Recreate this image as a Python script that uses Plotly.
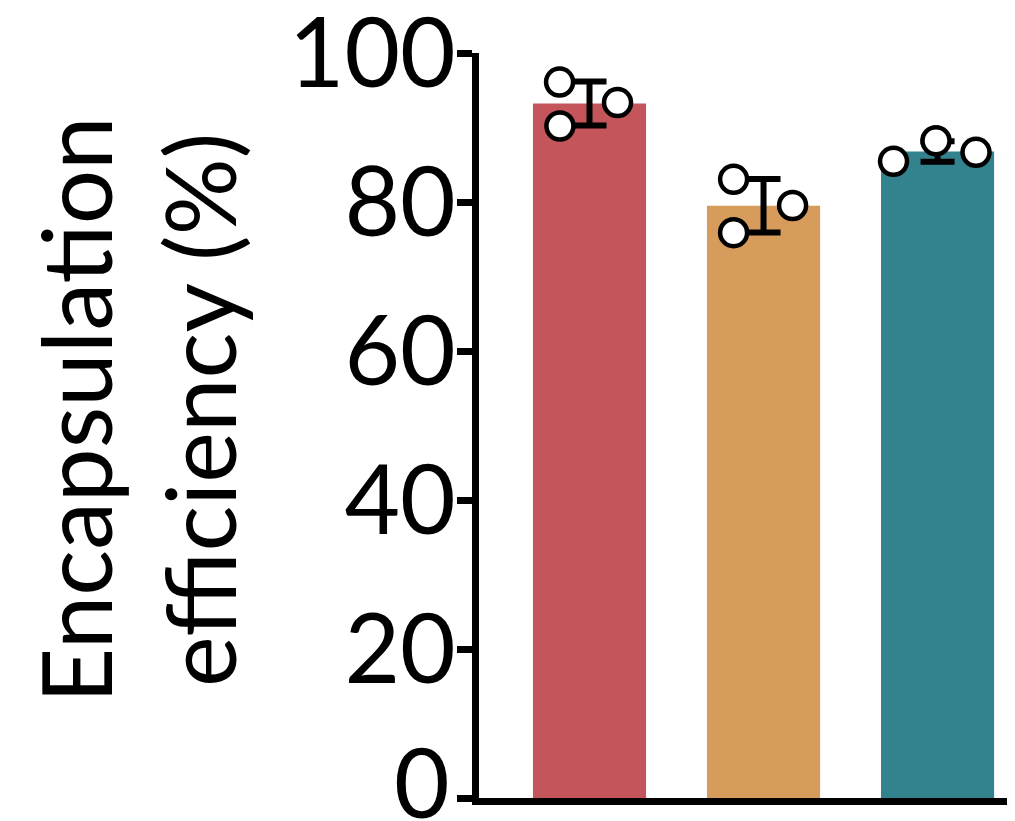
import numpy as np
import plotly.graph_objects as go

# ---- data ----
groups = ["Group 1", "Group 2", "Group 3"]
bar_colors = ["#C4555A", "#D79B5C", "#32838E"]
points_g1 = [96.1, 93.35, 90.2]
points_g2 = [83.05, 79.53, 75.88]
points_g3 = [85.46, 88.22, 86.67]
jitter_g1 = [-0.172, 0.161, -0.170]
jitter_g2 = [-0.172, 0.167, -0.172]
jitter_g3 = [-0.253, -0.009, 0.221]
y_ticks = [0, 20, 40, 60, 80, 100]
y_tick_labels = ["0", "20", "40", "60", "80", "100"]
y_title = "Encapsulation<br>efficiency (%)"

all_points = [points_g1, points_g2, points_g3]
all_jitter = [jitter_g1, jitter_g2, jitter_g3]
xpos = list(range(len(groups)))
means = [float(np.mean(p)) for p in all_points]
sds = [float(np.std(p, ddof=1)) for p in all_points]

FONT = "Lato"
FS = 96

fig = go.Figure()
fig.add_trace(go.Bar(
    x=xpos, y=means, width=0.65,
    marker=dict(color=bar_colors, line=dict(width=0)),
    error_y=dict(type="data", array=sds, visible=True,
                 color="black", thickness=6, width=17),
    hoverinfo="skip", showlegend=False,
))
for i, (pts, jit) in enumerate(zip(all_points, all_jitter)):
    fig.add_trace(go.Scatter(
        x=[i + j for j in jit], y=pts, mode="markers",
        marker=dict(size=27, color="white", line=dict(color="black", width=4.5)),
        showlegend=False, cliponaxis=False,
    ))

fig.update_layout(
    width=1007, height=813,
    margin=dict(l=471, r=0, t=45, b=23, autoexpand=False),
    paper_bgcolor="white", plot_bgcolor="white",
    font=dict(family=FONT, color="black"),
)
fig.update_xaxes(
    range=[-0.635, 2.445], showgrid=False, zeroline=False,
    showline=True, linecolor="black", linewidth=7,
    showticklabels=False, ticks="", automargin=False,
)
# the bottom label ("0") is drawn raised so that it stays inside the figure
fig.update_yaxes(
    range=[0, 100], tickvals=y_ticks,
    ticktext=[""] + y_tick_labels[1:],
    showgrid=False, zeroline=False,
    showline=True, linecolor="black", linewidth=7,
    ticks="outside", ticklen=15, tickwidth=7, tickcolor="black",
    tickfont=dict(family=FONT, size=FS, color="black"),
    ticklabeloverflow="allow", ticklabelstandoff=-18, automargin=False,
)
fig.add_annotation(
    text=y_tick_labels[0], xref="paper", yref="y",
    x=0, y=y_ticks[0], xanchor="right", yanchor="middle",
    xshift=-27, yshift=18, showarrow=False,
    font=dict(family=FONT, size=FS, color="black"),
)
fig.add_annotation(
    text=y_title, xref="paper", yref="paper",
    x=-0.639, y=0.521, xanchor="center", yanchor="middle",
    textangle=-90, showarrow=False,
    font=dict(family=FONT, size=FS, color="black"),
)

fig.write_html("out.html")
